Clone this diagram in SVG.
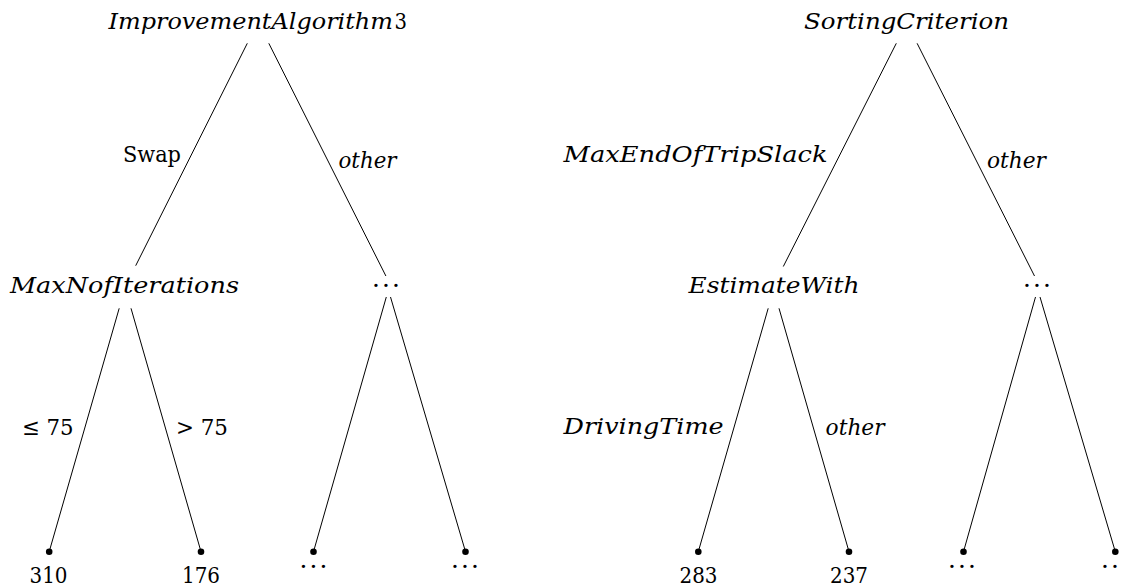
<svg xmlns="http://www.w3.org/2000/svg" width="1121" height="588" viewBox="0 0 1121 588" font-family="'DejaVu Serif', serif" font-size="23">
<style>
  text { fill: #000; }
  .it { font-style: italic; }
  .mid { text-anchor: middle; }
  .end { text-anchor: end; }
  .dots { font-size: 25px; }
  line { stroke: #000; stroke-width: 1; }
  circle { fill: #000; }
</style>
<rect width="1121" height="588" fill="#fff"/>
<g id="connectors">
  <line x1="247.3" y1="43.3" x2="135.7" y2="265.7"/>
  <line x1="268.8" y1="43.3" x2="385.9" y2="276"/>
  <line x1="119.2" y1="308.3" x2="49.2" y2="551.7"/>
  <line x1="131" y1="308.3" x2="201" y2="551.7"/>
  <line x1="386.3" y1="297" x2="313.5" y2="551.7"/>
  <line x1="390.5" y1="297" x2="465.5" y2="551.7"/>
  <line x1="896.3" y1="43.3" x2="783.3" y2="266.5"/>
  <line x1="917.1" y1="43.3" x2="1034.5" y2="276"/>
  <line x1="768.2" y1="308.3" x2="698.3" y2="551.7"/>
  <line x1="779" y1="308.3" x2="849" y2="551.7"/>
  <line x1="1035.5" y1="297" x2="963.5" y2="551.7"/>
  <line x1="1040" y1="297" x2="1115.3" y2="551.7"/>
</g>
<g id="edge-labels">
  <text x="181" y="162" class="end" textLength="58" lengthAdjust="spacingAndGlyphs">Swap</text>
  <text x="338.5" y="168" class="it" textLength="58" lengthAdjust="spacingAndGlyphs">other</text>
  <text x="22" y="435" textLength="51.6" lengthAdjust="spacingAndGlyphs">≤ 75</text>
  <text x="176" y="435" textLength="52" lengthAdjust="spacingAndGlyphs">&gt; 75</text>
  <text x="563.6" y="162" class="it" textLength="264" lengthAdjust="spacingAndGlyphs">MaxEndOfTripSlack</text>
  <text x="987" y="168" class="it" textLength="59" lengthAdjust="spacingAndGlyphs">other</text>
  <text x="563.6" y="434" class="it" textLength="160" lengthAdjust="spacingAndGlyphs">DrivingTime</text>
  <text x="825.6" y="435" class="it" textLength="59" lengthAdjust="spacingAndGlyphs">other</text>
</g>
<g id="node-improvement">
  <text x="108.5" y="29" class="it" textLength="284.5" lengthAdjust="spacingAndGlyphs">ImprovementAlgorithm</text>
  <text x="394.5" y="29" textLength="12.5" lengthAdjust="spacingAndGlyphs">3</text>
</g>
<g id="node-maxnof">
  <text x="124.5" y="293" class="it mid" textLength="229" lengthAdjust="spacingAndGlyphs">MaxNofIterations</text>
</g>
<g id="node-other-left">
  <text x="386" y="294" class="mid dots" textLength="28" lengthAdjust="spacing">· · ·</text>
</g>
<g id="leaf-310">
  <circle cx="49.2" cy="551.7" r="3.3"/>
  <text x="48.5" y="583" class="mid" textLength="38" lengthAdjust="spacingAndGlyphs">310</text>
</g>
<g id="leaf-176">
  <circle cx="201" cy="551.7" r="3.3"/>
  <text x="201" y="583" class="mid" textLength="38" lengthAdjust="spacingAndGlyphs">176</text>
</g>
<g id="leaf-l3">
  <circle cx="313.5" cy="551.7" r="3.3"/>
  <text x="313.5" y="575" class="mid dots" textLength="28" lengthAdjust="spacing">· · ·</text>
</g>
<g id="leaf-l4">
  <circle cx="465.5" cy="551.7" r="3.3"/>
  <text x="465" y="575" class="mid dots" textLength="28" lengthAdjust="spacing">· · ·</text>
</g>
<g id="node-sorting">
  <text x="906.5" y="29" class="it mid" textLength="205" lengthAdjust="spacingAndGlyphs">SortingCriterion</text>
</g>
<g id="node-estimate">
  <text x="774" y="293" class="it mid" textLength="171" lengthAdjust="spacingAndGlyphs">EstimateWith</text>
</g>
<g id="node-other-right">
  <text x="1037" y="294" class="mid dots" textLength="28" lengthAdjust="spacing">· · ·</text>
</g>
<g id="leaf-283">
  <circle cx="698.3" cy="551.7" r="3.3"/>
  <text x="698.5" y="583" class="mid" textLength="38" lengthAdjust="spacingAndGlyphs">283</text>
</g>
<g id="leaf-237">
  <circle cx="849" cy="551.7" r="3.3"/>
  <text x="849" y="583" class="mid" textLength="38" lengthAdjust="spacingAndGlyphs">237</text>
</g>
<g id="leaf-r3">
  <circle cx="963.5" cy="551.7" r="3.3"/>
  <text x="962" y="575" class="mid dots" textLength="28" lengthAdjust="spacing">· · ·</text>
</g>
<g id="leaf-r4">
  <circle cx="1115.3" cy="551.7" r="3.3"/>
  <text x="1115" y="575" class="mid dots" textLength="28" lengthAdjust="spacing">· · ·</text>
</g>
</svg>
